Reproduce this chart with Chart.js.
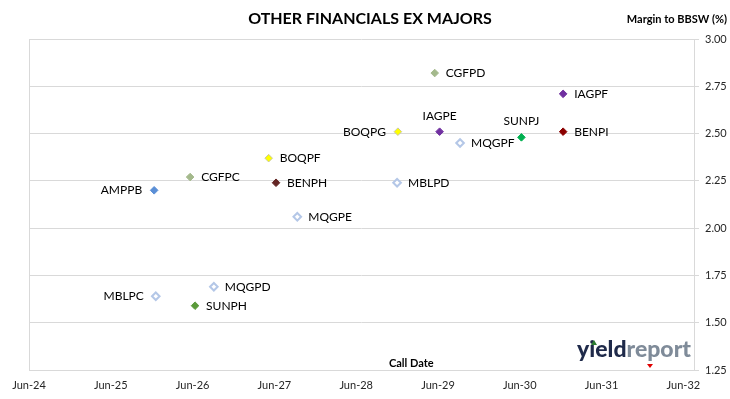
<!DOCTYPE html>
<html>
<head>
<meta charset="utf-8">
<script src="https://cdn.jsdelivr.net/npm/chart.js@4"></script>
<style>
  body { margin: 0; background: #fff; }
  #wrap { width: 730px; height: 399px; }
</style>
</head>
<body>
<div id="wrap"><canvas id="scatterGrafico" width="730" height="399"></canvas></div>
<script>
// dados
const tickers = ['AMPPB', 'CGFPC', 'BOQPF', 'BENPH', 'BOQPG', 'CGFPD', 'IAGPE', 'MQGPF',
  'SUNPJ', 'IAGPF', 'BENPI', 'MBLPD', 'MQGPE', 'MQGPD', 'MBLPC', 'SUNPH'];
const callDates = [2026.03, 2026.47, 2027.43, 2027.52, 2029.01, 2029.46, 2029.52, 2029.77,
  2030.52, 2031.03, 2031.03, 2029.00, 2027.78, 2026.76, 2026.05, 2026.53];
const margins = [2.20, 2.27, 2.37, 2.24, 2.51, 2.82, 2.51, 2.45,
  2.48, 2.71, 2.51, 2.24, 2.06, 1.69, 1.64, 1.59];
const xTickValues = [2024.5, 2025.5, 2026.5, 2027.5, 2028.5, 2029.5, 2030.5, 2031.5, 2032.5];
const xTickLabels = ['Jun-24', 'Jun-25', 'Jun-26', 'Jun-27', 'Jun-28', 'Jun-29', 'Jun-30', 'Jun-31', 'Jun-32'];

// estilos
const fillColors = ['#5b8fd6', '#a4b98c', '#ffff00', '#632523', '#ffff00', '#a4b98c', '#7030a0', '#ffffff',
  '#00b050', '#7030a0', '#8b0000', '#ffffff', '#ffffff', '#ffffff', '#ffffff', '#5a9a3a'];
const edgeColors = ['#5b8fd6', '#a4b98c', '#c9c9a0', '#632523', '#c9c9a0', '#a4b98c', '#7030a0', '#b4c7e7',
  '#00b050', '#7030a0', '#8b0000', '#b4c7e7', '#b4c7e7', '#b4c7e7', '#b4c7e7', '#5a9a3a'];
const labelSide = ['left', 'right', 'right', 'right', 'left', 'right', 'above', 'right',
  'above', 'right', 'right', 'right', 'right', 'right', 'left', 'right'];

const FONT = 'Lato, "Open Sans", sans-serif';

const pontos = tickers.map((t, i) => ({ x: callDates[i], y: margins[i] }));

const textos = {
  id: 'textos',
  afterDatasetsDraw(chart) {
    const ctx = chart.ctx;
    const meta = chart.getDatasetMeta(0);
    ctx.save();
    ctx.fillStyle = '#000';
    ctx.font = '12px ' + FONT;
    ctx.textBaseline = 'middle';
    meta.data.forEach((p, i) => {
      const side = labelSide[i];
      if (side === 'left') {
        ctx.textAlign = 'right';
        ctx.fillText(tickers[i], p.x - 12, p.y);
      } else if (side === 'above') {
        ctx.textAlign = 'center';
        ctx.fillText(tickers[i], p.x, p.y - 16);
      } else {
        ctx.textAlign = 'left';
        ctx.fillText(tickers[i], p.x + 11, p.y);
      }
    });

    // titulo
    ctx.font = 'bold 16px ' + FONT;
    ctx.textAlign = 'center';
    ctx.fillText('OTHER FINANCIALS EX MAJORS', 370, 19);

    ctx.font = 'bold 11px ' + FONT;
    ctx.textAlign = 'right';
    ctx.fillText('Margin to BBSW (%)', 727, 19);

    ctx.textAlign = 'left';
    ctx.fillText('Call Date', 389, 363);

    // logo
    ctx.font = '900 23px ' + FONT;
    ctx.textBaseline = 'alphabetic';
    ctx.fillStyle = '#1f2a4a';
    ctx.fillText('yield', 577, 357);
    const w = ctx.measureText('yield').width;
    ctx.fillStyle = '#7f8b99';
    ctx.fillText('report', 577 + w, 357);
    ctx.fillStyle = '#2e7d32';
    ctx.beginPath();
    ctx.moveTo(594, 340); ctx.lineTo(597, 345); ctx.lineTo(591, 345); ctx.closePath();
    ctx.fill();
    ctx.fillStyle = '#e00000';
    ctx.beginPath();
    ctx.moveTo(647, 364); ctx.lineTo(653, 364); ctx.lineTo(650, 368); ctx.closePath();
    ctx.fill();
    ctx.restore();
  }
};

const config = {
  type: 'scatter',
  data: {
    datasets: [{
      label: 'Margin to BBSW (%)',
      data: pontos,
      pointStyle: 'rectRot',
      pointRadius: 3.8,
      pointBorderWidth: edgeColors.map((c, i) => fillColors[i] === '#ffffff' ? 2 : 1),
      backgroundColor: fillColors,
      borderColor: edgeColors
    }]
  },
  options: {
    responsive: false,
    animation: false,
    layout: { padding: { left: 29, top: 39, right: 0, bottom: 0 } },
    plugins: {
      legend: { display: false },
      tooltip: { enabled: false }
    },
    scales: {
      x: {
        type: 'linear',
        min: 2024.5,
        max: 2032.63,
        afterBuildTicks: (scale) => { scale.ticks = xTickValues.map(v => ({ value: v })); },
        afterFit: (scale) => { scale.height = 29; },
        ticks: {
          padding: 9,
          color: '#262626',
          font: { family: FONT, size: 11 },
          callback: (v) => xTickLabels[xTickValues.indexOf(v)]
        },
        grid: {
          drawTicks: false,
          color: (c) => c.index === 0 ? '#d9d9d9' : 'transparent'
        },
        border: { color: '#d9d9d9' }
      },
      y: {
        position: 'right',
        min: 1.25,
        max: 3.0,
        afterFit: (scale) => { scale.width = 36; },
        ticks: {
          stepSize: 0.25,
          padding: 6,
          color: '#262626',
          font: { family: FONT, size: 11 },
          callback: (v) => v.toFixed(2)
        },
        grid: { color: '#d9d9d9', tickLength: 5 },
        border: { color: '#d9d9d9' }
      }
    }
  },
  plugins: [textos]
};

let myScatter = new Chart(document.getElementById('scatterGrafico'), config);
</script>
</body>
</html>
